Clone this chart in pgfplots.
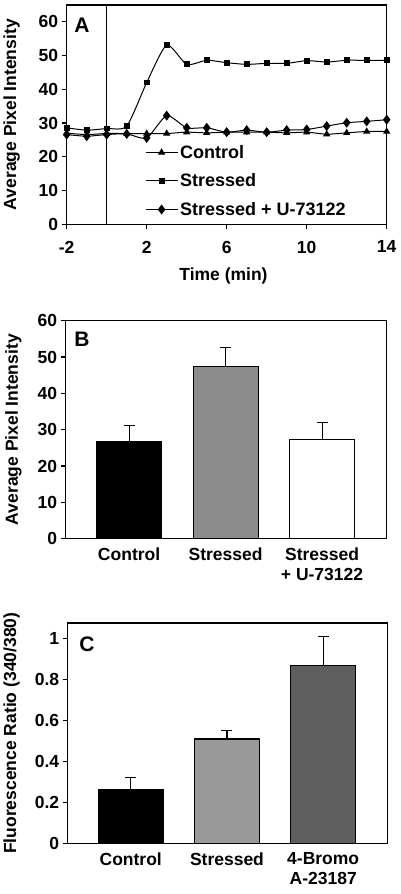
\documentclass[border=0pt]{standalone}
\usepackage{pgfplots}
\pgfplotsset{compat=1.18}
\usepackage{fontspec}
\setmainfont{Liberation Sans}
\begin{document}
\begin{tikzpicture}
\path[use as bounding box] (0pt,0pt) rectangle (400pt,894pt);
\pgfplotsset{
  every axis/.append style={
    scale only axis,
    axis line style={line width=1.3pt},
    tick style={line width=1.2pt, black},
    tick align=outside,
    major tick length=5pt,
    /pgf/number format/assume math mode=true,
    tick label style={font=\fontsize{17.5}{20}\selectfont\bfseries},
    label style={font=\fontsize{17.5}{20}\selectfont\bfseries},
  },
  myerr/.style={error bars/.cd, y dir=plus, y explicit,
    error bar style={line width=1.1pt, black},
    error mark options={rotate=90, line width=1.1pt, mark size=5.5pt, black}},
}
% ---------------- Panel A ----------------
\begin{axis}[
  at={(66.7pt,889pt)}, anchor=north west,
  width=320pt, height=219.3pt,
  xmin=-2, xmax=14, ymin=0, ymax=65,
  xtick={-2,2,6,10,14}, ytick={0,10,...,60},
  xtick pos=bottom, ytick pos=left,
  xticklabel style={yshift=-8pt},
  xlabel={Time (min)},
  xlabel style={at={(axis description cs:0.49,-0.237)}, anchor=center},
  ylabel={Average Pixel Intensity},
  ylabel style={at={(axis description cs:-0.172,0.5)}, anchor=center, rotate=0},
  legend style={at={(axis description cs:0.235,0.38)}, anchor=north west,
    draw=none, fill=none, font=\fontsize{18}{20}\selectfont\bfseries,
    row sep=10pt, /tikz/every even column/.append style={column sep=0pt}},
  legend cell align=left,
  legend image code/.code={
    \draw[#1, mark repeat=2, mark phase=2] plot coordinates {(0pt,0pt) (16pt,0pt) (32pt,0pt)};
  },
]
\addplot[black, line width=1.1pt, forget plot] coordinates {(0,0) (0,65)};
\addplot[black, line width=1pt, smooth, tension=0.4, mark=triangle*, mark size=3.2pt] coordinates {
(-2,27.0) (-1,26.6) (0,26.9) (1,26.9) (2,26.9) (3,26.9) (4,27.3) (5,27.1) (6,27.3)
(7,27.3) (8,27.3) (9,27.1) (10,27.3) (11,26.7) (12,27.1) (13,27.5) (14,27.5)};
\addlegendentry{Control}
\addplot[black, line width=1pt, smooth, tension=0.4, mark=square*, mark size=2.4pt] coordinates {
(-2,28.6) (-1,27.9) (0,28.4) (1,29.1) (2,42.0) (3,53.1) (4,47.4) (5,48.6) (6,47.9)
(7,47.4) (8,47.7) (9,47.7) (10,48.5) (11,48.1) (12,48.6) (13,48.6) (14,48.6)};
\addlegendentry{Stressed}
\addplot[black, line width=1pt, smooth, tension=0.4, mark=diamond*, mark size=4.2pt] coordinates {
(-2,26.6) (-1,26.1) (0,26.6) (1,26.8) (2,25.6) (3,32.2) (4,28.6) (5,28.6) (6,27.3)
(7,27.9) (8,27.3) (9,27.9) (10,28.1) (11,29.1) (12,30.1) (13,30.5) (14,31.0)};
\addlegendentry{Stressed + U-73122}
\node[font=\fontsize{21}{24}\selectfont\bfseries] at (axis description cs:0.048,0.909) {A};
\end{axis}
% ---------------- Panel B ----------------
\begin{axis}[
  at={(65.7pt,573.3pt)}, anchor=north west,
  width=321pt, height=218pt,
  xmin=-0.657, xmax=2.67, ymin=0, ymax=60,
  ytick={0,10,...,60}, ytick pos=left,
  xtick={0,1,2}, xticklabels={Control,Stressed,{Stressed\\+ U-73122}},
  xticklabel style={align=center, yshift=-1pt},
  major x tick style={draw=none},
  ylabel={Average Pixel Intensity},
  ylabel style={at={(axis description cs:-0.163,0.5)}, anchor=center},
  ybar, bar width=65pt, bar shift=0pt,
]
\addplot[draw=black, line width=1.1pt, fill=black, myerr]
  coordinates {(0,26.7) +- (0,4.5)};
\addplot[draw=black, line width=1.1pt, fill=black!45, myerr]
  coordinates {(1,47.3) +- (0,5.3)};
\addplot[draw=black, line width=1.1pt, fill=white, myerr]
  coordinates {(2,27.4) +- (0,4.5)};
\node[font=\fontsize{21}{24}\selectfont\bfseries] at (axis description cs:0.051,0.916) {B};
\end{axis}
% ---------------- Panel C ----------------
\begin{axis}[
  at={(67.7pt,271pt)}, anchor=north west,
  width=320pt, height=220.3pt,
  xmin=-0.655, xmax=2.67, ymin=0, ymax=1.075,
  ytick={0,0.2,0.4,0.6,0.8,1.0}, ytick pos=left,
  yticklabels={0,0.2,0.4,0.6,0.8,1},
  xtick={0,1,2}, xticklabels={Control,Stressed,{4-Bromo\\A-23187}},
  xticklabel style={align=center, yshift=-1pt},
  major x tick style={draw=none},
  ylabel={Fluorescence Ratio (340/380)},
  ylabel style={at={(axis description cs:-0.175,0.5)}, anchor=center},
  ybar, bar width=65pt, bar shift=0pt,
]
\addplot[draw=black, line width=1.1pt, fill=black, myerr]
  coordinates {(0,0.262) +- (0,0.060)};
\addplot[draw=black, line width=1.1pt, fill=black!40, myerr]
  coordinates {(1,0.509) +- (0,0.041)};
\addplot[draw=black, line width=1.1pt, fill=black!63, myerr]
  coordinates {(2,0.867) +- (0,0.144)};
\node[font=\fontsize{21}{24}\selectfont\bfseries] at (axis description cs:0.06,0.905) {C};
\end{axis}
\end{tikzpicture}
\end{document}
